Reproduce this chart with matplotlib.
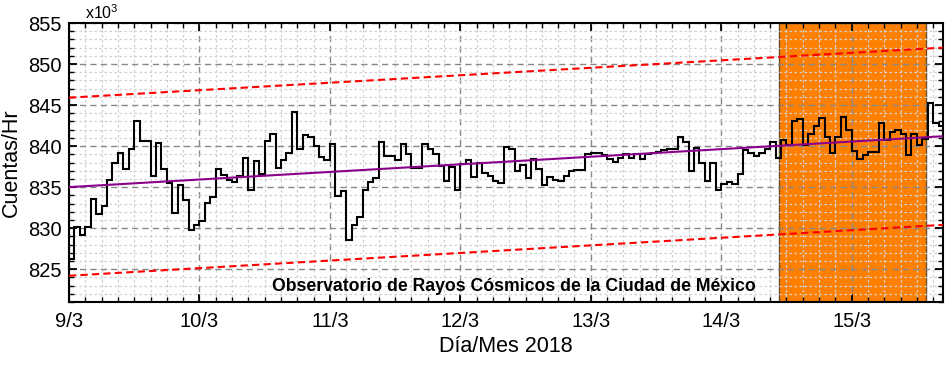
import numpy as np
import matplotlib
matplotlib.use("Agg")
import matplotlib.pyplot as plt
from matplotlib.ticker import MultipleLocator

plt.rcParams['font.family'] = ['Liberation Sans', 'DejaVu Sans']
plt.rcParams['mathtext.fontset'] = 'custom'
plt.rcParams['mathtext.rm'] = 'Liberation Sans'

# Cuentas por hora (x10^3), desde 9/3 00:00, una por hora
cuentas = [
    # 9/3
    826.3, 830.2, 829.2, 830.2, 833.5, 831.7, 832.7, 835.9, 838.0, 839.2, 837.2, 839.6,
    843.0, 840.6, 840.6, 836.3, 840.4, 837.2, 835.5, 831.9, 835.3, 833.4, 829.8, 830.4,
    # 10/3
    830.9, 833.1, 833.8, 837.2, 836.5, 835.9, 835.6, 836.3, 838.5, 834.6, 838.2, 836.6,
    840.6, 841.5, 837.3, 838.3, 839.1, 844.2, 839.7, 841.3, 841.1, 840.0, 838.7, 838.3,
    # 11/3
    840.2, 833.9, 834.5, 828.5, 830.4, 831.3, 834.6, 835.6, 836.1, 840.5, 838.8, 838.8,
    838.3, 840.2, 839.0, 837.3, 837.3, 840.3, 839.6, 839.0, 837.6, 835.8, 837.4, 834.7,
    # 12/3
    837.8, 838.3, 836.2, 837.9, 836.7, 836.3, 835.7, 835.5, 839.9, 839.7, 837.0, 837.7,
    836.1, 838.4, 837.2, 835.2, 836.2, 835.9, 835.8, 836.3, 837.0, 837.1, 837.1, 839.0,
    # 13/3
    839.2, 839.2, 838.9, 838.4, 838.1, 838.6, 839.0, 838.6, 839.0, 838.4, 839.0, 839.2,
    839.3, 839.5, 839.6, 839.7, 841.1, 840.5, 837.0, 839.8, 837.9, 835.8, 837.9, 834.6,
    # 14/3
    835.4, 835.6, 835.4, 836.6, 839.5, 839.2, 838.8, 839.2, 839.6, 840.5, 838.5, 840.7,
    840.1, 843.0, 843.3, 840.1, 841.5, 842.4, 843.4, 841.1, 839.2, 841.1, 843.6, 841.9,
    # 15/3
    839.4, 838.4, 838.9, 839.3, 839.3, 842.8, 840.7, 841.7, 841.9, 841.5, 838.9, 841.5,
    840.1, 840.9, 845.3, 842.8, 842.4,
]

dias = ['9/3', '10/3', '11/3', '12/3', '13/3', '14/3', '15/3']
x_fin = 6.7                      # dias mostrados

# Ajuste lineal y bandas (valores en los extremos)
ajuste = [835.0, 841.2]
banda_sup = [845.9, 852.0]
banda_inf = [824.2, 830.4]

# Zona sombreada (en horas desde 9/3 00:00)
zona = [130.6, 157.7]


def main():
    fig = plt.figure(figsize=(9.5, 3.7), dpi=100)
    ax = fig.add_axes([69 / 950, 68 / 370, 874 / 950, 279 / 370])

    # zona naranja
    ax.axvspan(zona[0] / 24, zona[1] / 24, facecolor='#FF8000',
               edgecolor='#6b4a2a', linewidth=1.0, zorder=1)

    # serie horaria
    bordes = np.arange(len(cuentas) + 1) / 24.0
    ax.stairs(cuentas, bordes, baseline=None, color='black', linewidth=1.5, zorder=3)

    xs = [0, x_fin]
    ax.plot(xs, banda_sup, color='#FF0000', linewidth=1.5, dashes=(3.5, 2), zorder=3)
    ax.plot(xs, banda_inf, color='#FF0000', linewidth=1.5, dashes=(3.5, 2), zorder=3)
    ax.plot(xs, ajuste, color='#8B008B', linewidth=1.5, zorder=4)

    ax.set_xlim(0, x_fin)
    ax.set_ylim(821, 855)

    ax.set_xticks(range(len(dias)))
    ax.set_xticklabels(dias)
    ax.xaxis.set_minor_locator(MultipleLocator(1 / 8))
    ax.yaxis.set_minor_locator(MultipleLocator(1))
    ax.set_yticks([825, 830, 835, 840, 845, 850, 855])

    ax.tick_params(which='both', direction='in', top=True, right=True, color='black')
    ax.tick_params(which='major', length=6, width=1.3, labelsize=14.5)
    ax.tick_params(which='minor', length=3.5, width=1.0)
    ax.tick_params(axis='x', which='major', pad=7)
    ax.tick_params(axis='y', which='major', pad=5)

    ax.set_axisbelow('line')
    ax.grid(True, which='major', color='#888888', linewidth=1.0, dashes=(4.5, 3))
    ax.grid(True, which='minor', color='#D0D0D0', linewidth=0.9, dashes=(2, 2))

    for s in ax.spines.values():
        s.set_linewidth(1.5)

    ax.set_ylabel('Cuentas/Hr', fontsize=15.5, labelpad=5)
    ax.set_xlabel('Día/Mes 2018', fontsize=15.5, labelpad=4)

    ax.text(0.018, 1.003, 'x10$^3$', transform=ax.transAxes, ha='left', va='bottom',
            fontsize=11.5)
    ax.text(0.5085, 0.057, 'Observatorio de Rayos Cósmicos de la Ciudad de México',
            transform=ax.transAxes, ha='center', va='center', fontsize=12.7,
            fontweight='bold', zorder=5)

    plt.savefig('out.png', dpi=100)
    plt.close()


if __name__ == "__main__":
    main()
